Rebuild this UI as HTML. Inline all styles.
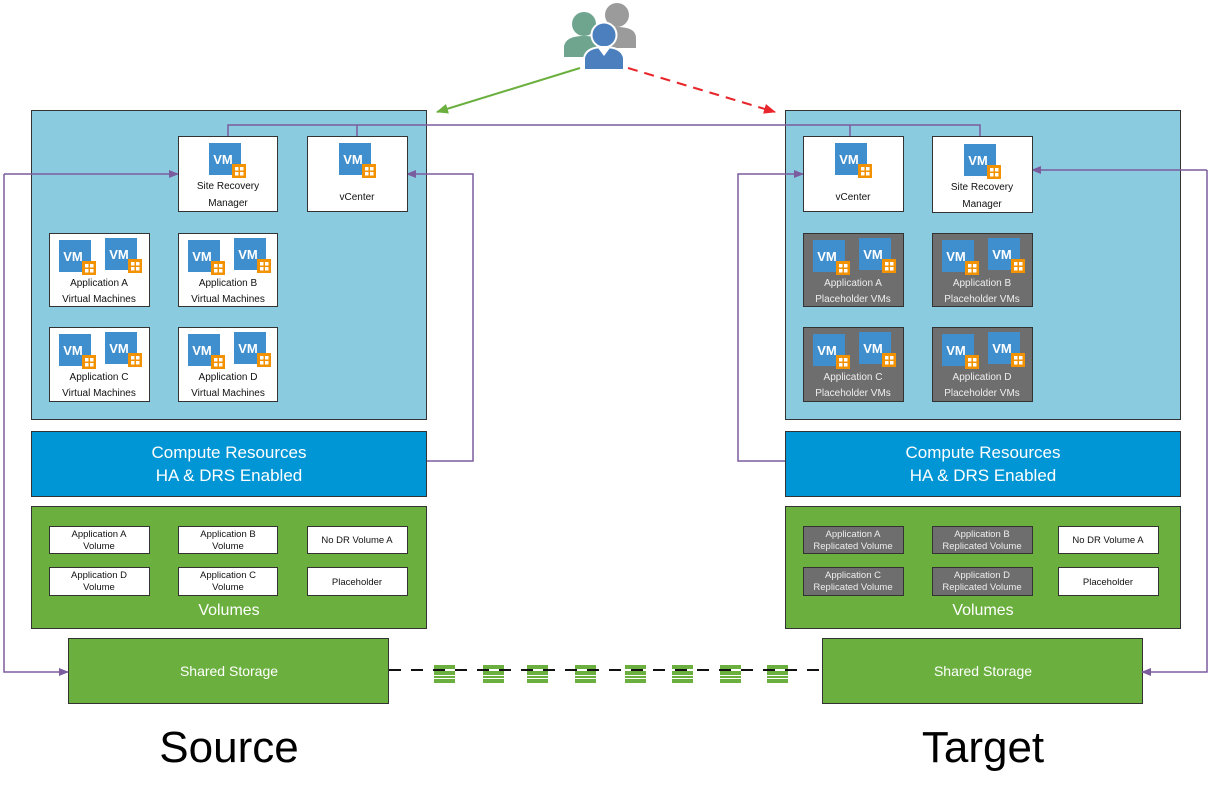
<!DOCTYPE html>
<html><head><meta charset="utf-8"><style>
html,body{margin:0;padding:0;background:#fff}
svg{display:block;font-family:"Liberation Sans","DejaVu Sans",sans-serif}
</style></head><body>
<svg width="1211" height="799" viewBox="0 0 1211 799" xmlns="http://www.w3.org/2000/svg">
<defs>
<g id="ic">
 <rect x="0" y="0" width="32" height="32" fill="#3F8FCE"/>
 <rect x="23" y="21" width="14" height="14" fill="#F39200"/>
 <rect x="26" y="24" width="3.5" height="3.5" fill="#fff"/><rect x="31" y="24" width="3.5" height="3.5" fill="#fff"/>
 <rect x="26" y="29" width="3.5" height="3.5" fill="#fff"/><rect x="31" y="29" width="3.5" height="3.5" fill="#fff"/>
</g>
<g id="disk">
 <rect x="0" y="0" width="21" height="4" fill="#6BB03F"/>
 <rect x="0" y="6" width="21" height="4" fill="#6BB03F"/>
 <rect x="0" y="11" width="21" height="2" fill="#6BB03F"/>
 <rect x="0" y="14" width="21" height="4" fill="#6BB03F"/>
</g>
<marker id="ap" markerWidth="10" markerHeight="8" refX="9" refY="4" orient="auto" markerUnits="userSpaceOnUse"><path d="M0,0 L10,4 L0,8 z" fill="#7B5C9E"/></marker>
<marker id="ag" markerWidth="12" markerHeight="10" refX="11" refY="5" orient="auto" markerUnits="userSpaceOnUse"><path d="M0,0 L12,5 L0,10 z" fill="#6BB03F"/></marker>
<marker id="ar" markerWidth="12" markerHeight="10" refX="11" refY="5" orient="auto" markerUnits="userSpaceOnUse"><path d="M0,0 L12,5 L0,10 z" fill="#E8262B"/></marker>
</defs>

<g stroke="#333" stroke-width="1">
<rect x="31.5" y="110.5" width="395" height="309" fill="#8ACBE0"/>
<rect x="31.5" y="431.5" width="395" height="65" fill="#0096D6"/>
<rect x="31.5" y="506.5" width="395" height="122" fill="#6BB03F"/>
<rect x="68.5" y="638.5" width="320" height="65" fill="#6BB03F"/>
<rect x="785.5" y="110.5" width="395" height="309" fill="#8ACBE0"/>
<rect x="785.5" y="431.5" width="395" height="65" fill="#0096D6"/>
<rect x="785.5" y="506.5" width="395" height="122" fill="#6BB03F"/>
<rect x="822.5" y="638.5" width="320" height="65" fill="#6BB03F"/>
</g>

<g stroke="#7B5C9E" stroke-width="1.5" fill="none">
<polyline points="228,136 228,125 980,125 980,136"/>
<line x1="357" y1="125" x2="357" y2="136"/>
<line x1="850" y1="125" x2="850" y2="136"/>
<polyline points="4,174 4,672 68,672" marker-end="url(#ap)"/>
<line x1="4" y1="174" x2="178" y2="174" marker-end="url(#ap)"/>
<polyline points="427,461 473,461 473,174 407,174" marker-end="url(#ap)"/>
<polyline points="785,461 738,461 738,174 803,174" marker-end="url(#ap)"/>
<polyline points="1207,170 1207,672 1142,672" marker-end="url(#ap)"/>
<line x1="1207" y1="170" x2="1032" y2="170" marker-end="url(#ap)"/>
</g>

<line x1="580" y1="68" x2="437" y2="112" stroke="#6BB03F" stroke-width="2" marker-end="url(#ag)"/>
<line x1="628" y1="68" x2="775" y2="112" stroke="#E8262B" stroke-width="2" stroke-dasharray="10,7" marker-end="url(#ar)"/>

<g>
<circle cx="617" cy="15" r="12" fill="#9B9B9B"/><path d="M596,48 L596,38 Q598,27 617,27 Q636,27 636,38 L636,48 Z" fill="#9B9B9B"/>
<circle cx="584" cy="24" r="12" fill="#6FA58F"/><path d="M564,57 L564,46 Q566,36 584,36 Q602,36 604,46 L604,57 Z" fill="#6FA58F"/>
<circle cx="604" cy="35" r="12.5" stroke="#fff" stroke-width="2" fill="#4C7FBE"/><path d="M584,70 L584,58 Q586,47 604,47 Q622,47 624,58 L624,70 Z" stroke="#fff" stroke-width="2" fill="#4C7FBE"/>
<path d="M598,48 L604,56 L610,48 Z" fill="#fff"/>
</g>

<g stroke="#333" stroke-width="1" fill="#fff">
<rect x="178.5" y="136.5" width="99" height="75"/>
<rect x="307.5" y="136.5" width="100" height="75"/>
<rect x="49.5" y="233.5" width="100" height="73"/>
<rect x="178.5" y="233.5" width="99" height="73"/>
<rect x="49.5" y="327.5" width="100" height="74"/>
<rect x="178.5" y="327.5" width="99" height="74"/>
<rect x="803.5" y="136.5" width="100" height="75"/>
<rect x="932.5" y="136.5" width="100" height="76"/>
<g fill="#6E6E6E">
<rect x="803.5" y="233.5" width="100" height="73"/>
<rect x="932.5" y="233.5" width="100" height="73"/>
<rect x="803.5" y="327.5" width="100" height="74"/>
<rect x="932.5" y="327.5" width="100" height="74"/>
</g>
</g>

<use href="#ic" x="209" y="143"/><use href="#ic" x="339" y="143"/>
<use href="#ic" x="59" y="240"/><use href="#ic" x="105" y="238"/>
<use href="#ic" x="188" y="240"/><use href="#ic" x="234" y="238"/>
<use href="#ic" x="59" y="334"/><use href="#ic" x="105" y="332"/>
<use href="#ic" x="188" y="334"/><use href="#ic" x="234" y="332"/>
<use href="#ic" x="835" y="143"/><use href="#ic" x="964" y="144"/>
<use href="#ic" x="813" y="240"/><use href="#ic" x="859" y="238"/>
<use href="#ic" x="942" y="240"/><use href="#ic" x="988" y="238"/>
<use href="#ic" x="813" y="334"/><use href="#ic" x="859" y="332"/>
<use href="#ic" x="942" y="334"/><use href="#ic" x="988" y="332"/>

<g fill="#fff" font-size="13" font-weight="bold" text-anchor="middle">
<text x="223" y="164">VM</text><text x="353" y="164">VM</text>
<text x="73" y="261">VM</text><text x="119" y="259">VM</text>
<text x="202" y="261">VM</text><text x="248" y="259">VM</text>
<text x="73" y="355">VM</text><text x="119" y="353">VM</text>
<text x="202" y="355">VM</text><text x="248" y="353">VM</text>
<text x="849" y="164">VM</text><text x="978" y="165">VM</text>
<text x="827" y="261">VM</text><text x="873" y="259">VM</text>
<text x="956" y="261">VM</text><text x="1002" y="259">VM</text>
<text x="827" y="355">VM</text><text x="873" y="353">VM</text>
<text x="956" y="355">VM</text><text x="1002" y="353">VM</text>
</g>

<g font-size="10" text-anchor="middle" fill="#111">
<text x="228" y="189">Site Recovery</text><text x="228" y="206">Manager</text>
<text x="357" y="200">vCenter</text>
<text x="99" y="286">Application A</text><text x="99" y="302">Virtual Machines</text>
<text x="228" y="286">Application B</text><text x="228" y="302">Virtual Machines</text>
<text x="99" y="380">Application C</text><text x="99" y="396">Virtual Machines</text>
<text x="228" y="380">Application D</text><text x="228" y="396">Virtual Machines</text>
<text x="853" y="200">vCenter</text>
<text x="982" y="190">Site Recovery</text><text x="982" y="207">Manager</text>
</g>
<g font-size="10" text-anchor="middle" fill="#eee">
<text x="853" y="286">Application A</text><text x="853" y="302">Placeholder VMs</text>
<text x="982" y="286">Application B</text><text x="982" y="302">Placeholder VMs</text>
<text x="853" y="380">Application C</text><text x="853" y="396">Placeholder VMs</text>
<text x="982" y="380">Application D</text><text x="982" y="396">Placeholder VMs</text>
</g>

<g font-size="17" fill="#fff" text-anchor="middle">
<text x="229" y="458">Compute Resources</text><text x="229" y="481">HA &amp; DRS Enabled</text>
<text x="983" y="458">Compute Resources</text><text x="983" y="481">HA &amp; DRS Enabled</text>
<text x="229" y="615" font-size="16">Volumes</text><text x="983" y="615" font-size="16">Volumes</text>
<text x="229" y="676" font-size="14">Shared Storage</text><text x="983" y="676" font-size="14">Shared Storage</text>
</g>

<g stroke="#333" stroke-width="1" fill="#fff">
<rect x="49.5" y="526.5" width="100" height="27"/><rect x="178.5" y="526.5" width="99" height="27"/><rect x="307.5" y="526.5" width="100" height="27"/>
<rect x="49.5" y="567.5" width="100" height="28"/><rect x="178.5" y="567.5" width="99" height="28"/><rect x="307.5" y="567.5" width="100" height="28"/>
<rect x="1058.5" y="526.5" width="100" height="27"/><rect x="1058.5" y="567.5" width="100" height="28"/>
<g fill="#6E6E6E">
<rect x="803.5" y="526.5" width="100" height="27"/><rect x="932.5" y="526.5" width="100" height="27"/>
<rect x="803.5" y="567.5" width="100" height="28"/><rect x="932.5" y="567.5" width="100" height="28"/>
</g>
</g>
<g font-size="9.5" text-anchor="middle" fill="#111">
<text x="99" y="537">Application A</text><text x="99" y="549">Volume</text>
<text x="228" y="537">Application B</text><text x="228" y="549">Volume</text>
<text x="357" y="543">No DR Volume A</text>
<text x="99" y="578">Application D</text><text x="99" y="590">Volume</text>
<text x="228" y="578">Application C</text><text x="228" y="590">Volume</text>
<text x="357" y="585">Placeholder</text>
<text x="1108" y="543">No DR Volume A</text>
<text x="1108" y="585">Placeholder</text>
</g>
<g font-size="9.5" text-anchor="middle" fill="#eee">
<text x="853" y="537">Application A</text><text x="853" y="549">Replicated Volume</text>
<text x="982" y="537">Application B</text><text x="982" y="549">Replicated Volume</text>
<text x="853" y="578">Application C</text><text x="853" y="590">Replicated Volume</text>
<text x="982" y="578">Application D</text><text x="982" y="590">Replicated Volume</text>
</g>

<line x1="389" y1="670" x2="822" y2="670" stroke="#111" stroke-width="2" stroke-dasharray="12,10"/>
<use href="#disk" x="434" y="665"/><use href="#disk" x="483" y="665"/><use href="#disk" x="527" y="665"/>
<use href="#disk" x="575" y="665"/><use href="#disk" x="625" y="665"/><use href="#disk" x="672" y="665"/>
<use href="#disk" x="720" y="665"/><use href="#disk" x="767" y="665"/>

<text x="229" y="762" font-size="44" text-anchor="middle" fill="#000">Source</text>
<text x="983" y="762" font-size="44" text-anchor="middle" fill="#000">Target</text>
</svg>
</body></html>
